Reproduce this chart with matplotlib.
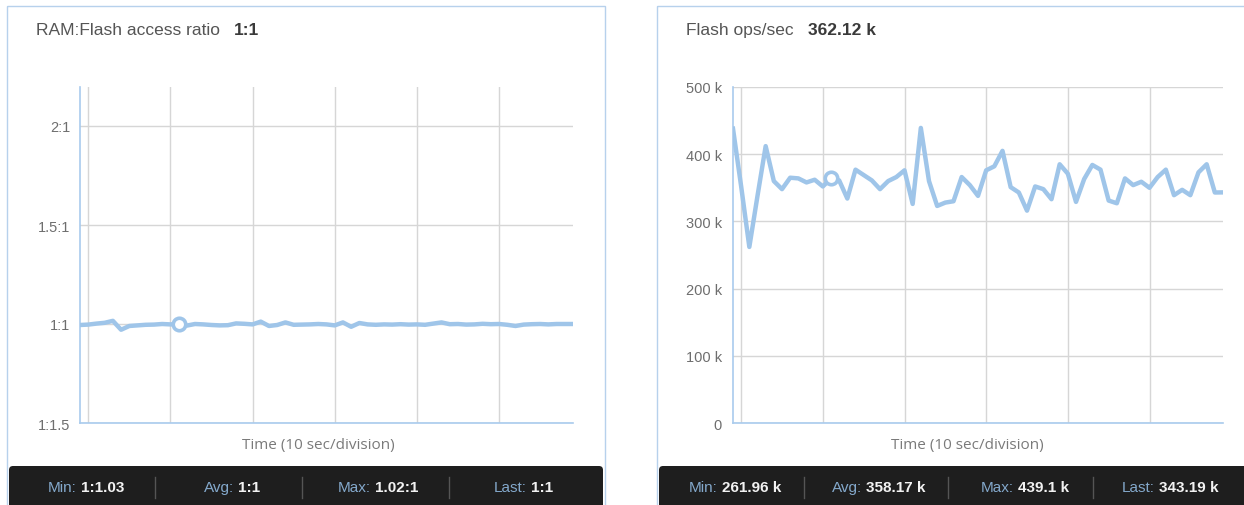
import numpy as np
import matplotlib.pyplot as plt
from matplotlib.patches import Rectangle, FancyBboxPatch

# --- data (1 point per second, 61 samples) ---
# ratio values on a symmetric scale: r:1 -> r, 1:r -> 2 - r
ratio_vals = [0.995, 0.997, 1.002, 1.006, 1.016, 0.971, 0.990, 0.993, 0.996, 0.997,
              1.000, 0.998, 1.000, 0.992, 1.000, 0.998, 0.995, 0.993, 0.994, 1.003,
              1.001, 0.998, 1.012, 0.990, 0.995, 1.008, 0.996, 0.997, 0.998, 1.000,
              0.998, 0.993, 1.008, 0.986, 1.005, 0.998, 0.996, 0.998, 0.997, 0.999,
              0.997, 0.998, 0.996, 1.002, 1.008, 0.999, 1.000, 0.997, 0.998, 1.001,
              0.999, 1.000, 0.996, 0.990, 0.997, 0.999, 1.000, 0.998, 1.000, 1.000,
              1.000]
flash_ops_k = [438, 352, 262, 338, 412, 360, 348, 365, 364, 358,
               362, 352, 364, 361, 334, 377, 369, 361, 348, 360,
               366, 376, 326, 439.1, 360, 323, 328, 330, 366, 354,
               338, 376, 382, 405, 351, 343, 316, 352, 348, 333,
               385, 371, 329, 363, 384, 377, 331, 327, 364, 354,
               359, 350, 366, 377, 339, 347, 339, 373, 385, 343,
               343.19]
seconds = np.arange(len(flash_ops_k))
grid_seconds = [1, 11, 21, 31, 41, 51]
hover_idx = 12

ratio_ticks = [0.5, 1.0, 1.5, 2.0]
ratio_tick_labels = ["1:1.5", "1:1", "1.5:1", "2:1"]
ops_ticks = [0, 100, 200, 300, 400, 500]
ops_tick_labels = ["0", "100 k", "200 k", "300 k", "400 k", "500 k"]

ratio_stats = [("Min:", "1:1.03"), ("Avg:", "1:1"), ("Max:", "1.02:1"), ("Last:", "1:1")]
ops_stats = [("Min:", "261.96 k"), ("Avg:", "358.17 k"), ("Max:", "439.1 k"), ("Last:", "343.19 k")]

# --- style ---
W, H = 1244, 506
line_c = "#9fc5e9"
border_c = "#b7d1ec"
spine_c = "#a9cbed"
grid_c = "#d6d6d6"
plt.rcParams["font.family"] = ["Liberation Sans", "DejaVu Sans"]

fig = plt.figure(figsize=(W / 100, H / 100), dpi=100)
bg = fig.add_axes([0, 0, 1, 1], zorder=-1)
bg.set_xlim(0, W)
bg.set_ylim(H, 0)
bg.axis("off")


def panel(x0, x1, title, value, stats, label_x, sep_x, xlabel_cx):
    bg.add_patch(Rectangle((x0, 7), x1 - x0, 600, fill=False, ec=border_c, lw=1))
    t = bg.text(x0 + 29, 30, title, fontsize=12.5, color="#555555", va="center")
    bg.annotate(value, xy=(1, 0.5), xycoords=t, xytext=(14, 0), textcoords="offset pixels",
                fontsize=12.5, fontweight="bold", color="#3a3a3a", va="center")
    bg.text(xlabel_cx, 446, "Time (10 sec/division)", family="Open Sans", fontsize=11,
            color="#7a7a7a", ha="center", va="center")
    bg.add_patch(FancyBboxPatch((x0 + 2, 467), x1 - x0 - 4, 80,
                                boxstyle="round,pad=0,rounding_size=4", fc="#1e1e1e", ec="none"))
    for (lab, val), lx in zip(stats, label_x):
        lt = bg.text(lx, 488, lab, fontsize=11, color="#84a9cc", va="center")
        bg.annotate(val, xy=(1, 0.5), xycoords=lt, xytext=(4, 0), textcoords="offset pixels",
                    fontsize=11, fontweight="bold", color="#f2f2f2", va="center")
    for sx in sep_x:
        bg.plot([sx, sx], [478, 499], color="#555555", lw=1)


panel(7, 605, "RAM:Flash access ratio", "1:1", ratio_stats,
      [48, 204, 338, 494], [155, 302, 449], 318)
panel(657, 1300, "Flash ops/sec", "362.12 k", ops_stats,
      [689, 832, 981, 1122], [804, 948, 1093], 967)


def chart(rect, y, ylim, ticks, labels, pad):
    ax = fig.add_axes(rect)
    ax.set_facecolor("none")
    ax.plot(seconds, y, color=line_c, lw=3.2, solid_joinstyle="round", zorder=3)
    ax.plot(seconds[hover_idx], y[hover_idx], "o", ms=9, mfc="white", mec=line_c, mew=2.6, zorder=4)
    ax.set_xlim(0, 60)
    ax.set_ylim(*ylim)
    ax.set_xticks(grid_seconds)
    ax.set_xticklabels([])
    ax.set_yticks(ticks)
    ax.set_yticklabels(labels)
    ax.tick_params(axis="both", length=0)
    ax.tick_params(axis="y", pad=pad, labelsize=10.5, labelcolor="#6e6e6e")
    ax.grid(True, color=grid_c, lw=1)
    ax.set_axisbelow(True)
    ax.spines[["top", "right"]].set_visible(False)
    for s in ("left", "bottom"):
        ax.spines[s].set_color(spine_c)
        ax.spines[s].set_linewidth(1.2)
    return ax


chart([80 / W, 1 - 424 / H, 493 / W, 336 / H], ratio_vals, (0.5, 0.5 + 336 / 198),
      ratio_ticks, ratio_tick_labels, 7)
chart([733 / W, 1 - 424 / H, 490 / W, 336 / H], flash_ops_k, (0, 500),
      ops_ticks, ops_tick_labels, 8)

fig.savefig("out.png", dpi=100)
